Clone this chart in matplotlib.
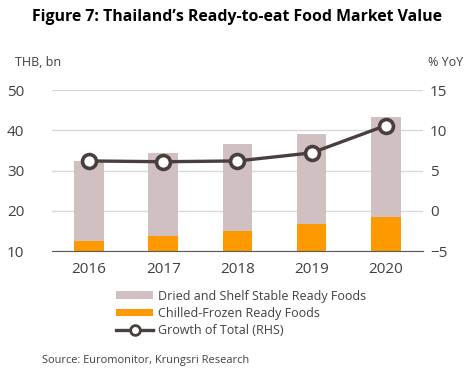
import numpy as np
import matplotlib.pyplot as plt
from matplotlib.lines import Line2D
from matplotlib.patches import Patch

plt.rcParams['font.family'] = ['Open Sans', 'DejaVu Sans']

# dados
years = ['2016', '2017', '2018', '2019', '2020']
chilled = [12.6, 13.8, 15.0, 16.8, 18.5]
dried = [19.8, 20.5, 21.6, 22.3, 24.8]
growth = [6.2, 6.1, 6.2, 7.2, 10.6]

c_dried = '#d0c0c1'
c_chilled = '#ff9900'
c_line = '#4a3f3f'
c_text = '#404040'

fig = plt.figure(figsize=(4.73, 3.77), dpi=100)
ax = fig.add_axes([0.110, 0.334, 0.784, 0.427])
x = np.arange(len(years))

ax.bar(x, chilled, width=0.4, color=c_chilled, zorder=2)
ax.bar(x, dried, width=0.4, bottom=chilled, color=c_dried, zorder=2)
ax.set_ylim(10, 50)
ax.set_yticks([10, 20, 30, 40, 50])
ax.set_xlim(-0.5, 4.5)
ax.set_xticks(x)
ax.set_xticklabels(years)
ax.grid(axis='y', color='#d9d9d9', linewidth=1, zorder=0)
ax.set_axisbelow(True)
for s in ['top', 'right', 'left']:
    ax.spines[s].set_visible(False)
ax.spines['bottom'].set_color('#595959')
ax.tick_params(length=0, labelsize=11, colors=c_text, pad=8)
ax.tick_params(axis='y', pad=20)

ax2 = ax.twinx()
ax2.plot(x, growth, color=c_line, linewidth=2.4, marker='o', markersize=10,
         markerfacecolor='white', markeredgecolor=c_line, markeredgewidth=2.6, zorder=5)
ax2.set_ylim(-5, 15)
ax2.set_yticks([-5, 0, 5, 10, 15])
for s in ['top', 'right', 'left', 'bottom']:
    ax2.spines[s].set_visible(False)
ax2.tick_params(length=0, labelsize=11, colors=c_text, pad=5)

fig.text(0.5, 0.955, 'Figure 7: Thailand\u2019s Ready-to-eat Food Market Value',
         ha='center', va='center', fontsize=11.4, fontweight='bold', color='black')
fig.text(0.032, 0.833, 'THB, bn', ha='left', va='center', fontsize=9, color=c_text)
fig.text(0.905, 0.833, '% YoY', ha='left', va='center', fontsize=9, color=c_text)

handles = [Patch(facecolor=c_dried, edgecolor='none'),
           Patch(facecolor=c_chilled, edgecolor='none'),
           Line2D([], [], color=c_line, linewidth=2.4, marker='o', markersize=7,
                  markerfacecolor='white', markeredgecolor=c_line, markeredgewidth=2)]
labels = ['Dried and Shelf Stable Ready Foods', 'Chilled-Frozen Ready Foods', 'Growth of Total (RHS)']
fig.legend(handles, labels, loc='upper left', bbox_to_anchor=(0.245, 0.232), frameon=False,
           fontsize=9, handlelength=3.0, handleheight=0.55, labelspacing=0.35,
           handletextpad=0.4, borderaxespad=0, borderpad=0, labelcolor=c_text)

fig.text(0.089, 0.045, 'Source: Euromonitor, Krungsri Research', ha='left', va='center',
         fontsize=7.9, color=c_text)

fig.savefig('out.png', dpi=100)
